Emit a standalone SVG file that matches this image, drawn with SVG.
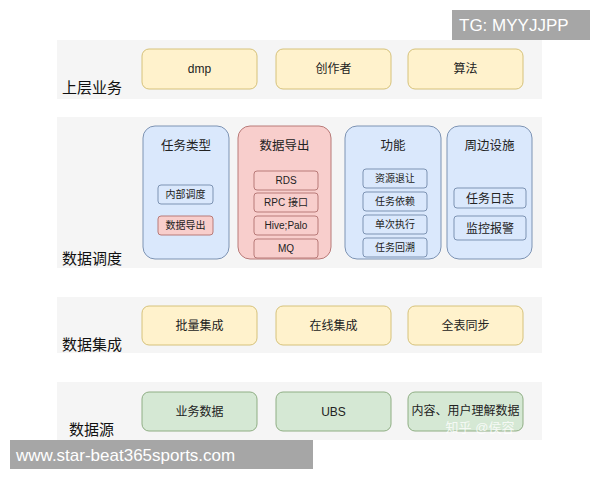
<svg xmlns="http://www.w3.org/2000/svg" width="600" height="480" viewBox="0 0 600 480">
<style>
text{font-family:"Liberation Sans","Noto Sans CJK SC",sans-serif;fill:#222;text-anchor:middle}
.band{fill:#f5f5f5;stroke:none}
.lbl{font-size:15px;text-anchor:start;fill:#111}
.y{fill:#fff2cc;stroke:#d6c27a;stroke-width:1}
.g{fill:#d5e8d4;stroke:#8fae84;stroke-width:1}
.b{fill:#dae8fc;stroke:#7d93b3;stroke-width:1}
.r{fill:#f8cecc;stroke:#b87a78;stroke-width:1}
.t{font-size:12px}
.s{font-size:10px}
.h{font-size:12.5px}
.wm{fill:#a6a6a6}
.wt{fill:#fff;text-anchor:start}
</style>
<rect width="600" height="480" fill="#fff"/>
<g id="layer-upper">
<rect class="band" x="57" y="40" width="485" height="59"/>
<text class="lbl" x="62" y="93">上层业务</text>
</g>
<g id="node-dmp"><rect class="y" x="142" y="49" width="115" height="40" rx="7"/><text class="t" x="199.5" y="73">dmp</text></g>
<g id="node-creator"><rect class="y" x="276" y="49" width="115" height="40" rx="7"/><text class="t" x="333.5" y="73">创作者</text></g>
<g id="node-algo"><rect class="y" x="408" y="49" width="115" height="40" rx="7"/><text class="t" x="465.5" y="73">算法</text></g>

<g id="layer-schedule">
<rect class="band" x="57" y="117" width="485" height="151"/>
<text class="lbl" x="62" y="264">数据调度</text>
</g>
<g id="node-tasktype">
<rect class="b" x="143" y="126" width="86" height="133" rx="12"/>
<text class="h" x="186" y="150">任务类型</text>
<rect class="b" x="158" y="185" width="55" height="19" rx="3"/><text class="s" x="185.5" y="198">内部调度</text>
<rect class="r" x="158" y="216" width="55" height="19" rx="3"/><text class="s" x="185.5" y="229">数据导出</text>
</g>
<g id="node-export">
<rect class="r" x="238" y="126" width="93" height="133" rx="12"/>
<text class="h" x="284.5" y="150">数据导出</text>
<rect class="r" x="254" y="171" width="64" height="19" rx="3"/><text class="s" x="286" y="184">RDS</text>
<rect class="r" x="254" y="193" width="64" height="19" rx="3"/><text class="s" x="286" y="206">RPC 接口</text>
<rect class="r" x="254" y="216" width="64" height="19" rx="3"/><text class="s" x="286" y="229">Hive;Palo</text>
<rect class="r" x="254" y="239" width="64" height="19" rx="3"/><text class="s" x="286" y="252">MQ</text>
</g>
<g id="node-function">
<rect class="b" x="345" y="126" width="96" height="133" rx="12"/>
<text class="h" x="393" y="150">功能</text>
<rect class="b" x="363" y="169" width="64" height="19" rx="3"/><text class="s" x="395" y="182">资源退让</text>
<rect class="b" x="363" y="192" width="64" height="19" rx="3"/><text class="s" x="395" y="205">任务依赖</text>
<rect class="b" x="363" y="215" width="64" height="19" rx="3"/><text class="s" x="395" y="228">单次执行</text>
<rect class="b" x="363" y="238" width="64" height="19" rx="3"/><text class="s" x="395" y="251">任务回溯</text>
</g>
<g id="node-infra">
<rect class="b" x="447" y="126" width="85" height="133" rx="12"/>
<text class="h" x="489.5" y="150">周边设施</text>
<rect class="b" x="454" y="188" width="72" height="20" rx="3"/><text class="t" x="490" y="202.5">任务日志</text>
<rect class="b" x="454" y="216" width="72" height="24" rx="3"/><text class="t" x="490" y="232.5">监控报警</text>
</g>

<g id="layer-integration">
<rect class="band" x="57" y="297" width="485" height="56"/>
<text class="lbl" x="62" y="350">数据集成</text>
</g>
<g id="node-batch"><rect class="y" x="142" y="306" width="115" height="39" rx="7"/><text class="t" x="199.5" y="330">批量集成</text></g>
<g id="node-online"><rect class="y" x="276" y="306" width="115" height="39" rx="7"/><text class="t" x="333.5" y="330">在线集成</text></g>
<g id="node-fullsync"><rect class="y" x="408" y="306" width="115" height="39" rx="7"/><text class="t" x="465.5" y="330">全表同步</text></g>

<g id="layer-source">
<rect class="band" x="57" y="382" width="485" height="58"/>
<text class="lbl" x="69" y="435">数据源</text>
</g>
<g id="node-bizdata"><rect class="g" x="142" y="392" width="115" height="39" rx="7"/><text class="t" x="199.5" y="416">业务数据</text></g>
<g id="node-ubs"><rect class="g" x="276" y="392" width="115" height="39" rx="7"/><text class="t" x="333.5" y="416">UBS</text></g>
<g id="node-content"><rect class="g" x="408" y="392" width="115" height="39" rx="7"/><text class="t" x="465.5" y="415">内容、用户理解数据</text></g>
<g id="connectors"></g>

<text x="480" y="432" style="font-size:13px;fill:#fff;fill-opacity:0.8;text-anchor:middle">知乎 @侯容</text>
<g id="watermark-tg"><rect class="wm" x="452" y="10" width="138" height="30"/><text class="wt" x="459" y="31" style="font-size:17px">TG: MYYJJPP</text></g>
<g id="watermark-url"><rect class="wm" x="10" y="440" width="303" height="29"/><text class="wt" x="16" y="461" style="font-size:17px">www.star-beat365sports.com</text></g>
</svg>
